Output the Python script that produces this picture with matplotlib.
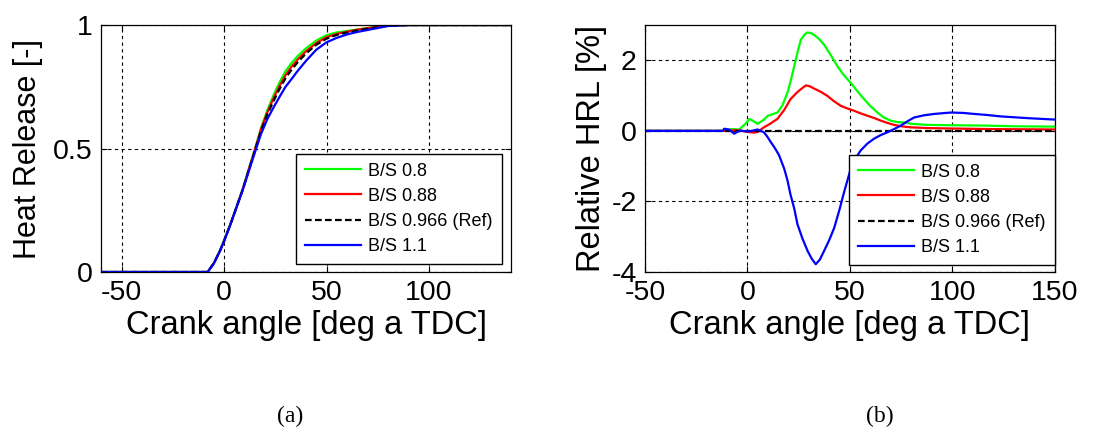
import numpy as np
import matplotlib
matplotlib.use("Agg")
import matplotlib.pyplot as plt

plt.rcParams['font.family'] = ['Liberation Sans', 'DejaVu Sans']
plt.rcParams['axes.unicode_minus'] = False

# (a) cumulative heat release
ca_a = [-60, -12, -8, -5, -2, 0, 3, 6, 9, 12, 15, 18, 21, 24, 27, 30, 33, 36, 40,
        45, 50, 55, 60, 65, 70, 75, 80, 90, 100, 140]
hr_08 = [0, 0, 0, 0.036, 0.087, 0.128, 0.192, 0.263, 0.334, 0.415, 0.496, 0.582, 0.652,
         0.713, 0.767, 0.813, 0.847, 0.875, 0.906, 0.937, 0.959, 0.97, 0.976, 0.982,
         0.988, 0.994, 0.999, 1, 1, 1]
hr_088 = [0, 0, 0, 0.035, 0.085, 0.125, 0.19, 0.26, 0.332, 0.413, 0.494, 0.577, 0.644,
          0.701, 0.752, 0.797, 0.832, 0.861, 0.894, 0.927, 0.951, 0.964, 0.973, 0.981,
          0.987, 0.993, 0.998, 1, 1, 1]
hr_ref = [0, 0, 0, 0.035, 0.085, 0.125, 0.19, 0.26, 0.33, 0.41, 0.49, 0.57, 0.635,
          0.69, 0.74, 0.785, 0.82, 0.85, 0.885, 0.92, 0.945, 0.96, 0.97, 0.978,
          0.985, 0.992, 0.997, 1, 1, 1]
hr_11 = [0, 0, 0, 0.034, 0.085, 0.125, 0.19, 0.26, 0.329, 0.406, 0.483, 0.558, 0.617,
         0.664, 0.708, 0.75, 0.782, 0.815, 0.855, 0.9, 0.93, 0.948, 0.962, 0.972,
         0.98, 0.988, 0.996, 1, 1, 1]

# (b) relative HRL [%]
ca_g = [-50, -10, -8, -4, -1, 1, 3, 5, 8, 10, 14.6, 17, 19.5, 21, 22.8, 24.5, 26, 28,
        29.3, 31, 32.5, 35, 37.4, 40.5, 43.9, 47, 50.4, 53.5, 56.9, 60, 63.4, 66.5,
        69.9, 73, 76.4, 80, 87.8, 100, 115, 130, 150]
rel_08 = [0, 0, 0.05, 0.04, 0.2, 0.34, 0.27, 0.2, 0.32, 0.43, 0.52, 0.72, 1.08, 1.4,
          1.83, 2.25, 2.58, 2.74, 2.79, 2.77, 2.72, 2.6, 2.44, 2.16, 1.83, 1.58, 1.36,
          1.13, 0.9, 0.7, 0.52, 0.38, 0.29, 0.25, 0.24, 0.2, 0.17, 0.16, 0.15, 0.13, 0.12]
ca_r = [-50, -10, -5, 0, 3, 5, 8, 11, 14.6, 18, 21, 24, 26, 28.5, 30.5, 32.5, 36, 39,
        42, 45.5, 49, 52, 55, 58.5, 62, 65, 68, 71.5, 75, 79.7, 88, 96, 120, 150]
rel_088 = [0, 0, 0.02, -0.03, -0.05, -0.03, 0.1, 0.2, 0.34, 0.6, 0.9, 1.08, 1.18, 1.29,
           1.26, 1.2, 1.1, 0.99, 0.85, 0.71, 0.63, 0.57, 0.5, 0.43, 0.36, 0.29, 0.23,
           0.17, 0.13, 0.1, 0.08, 0.07, 0.05, 0.04]
ca_ref = [-50, 150]
rel_ref = [0, 0]
ca_b = [-50, -12, -11.4, -9, -6.5, -5, -3.3, 0, 2, 4.9, 8, 9.5, 11.4, 13.5, 15.4, 17.9,
        19.5, 21, 22.8, 24.4, 26.8, 29.3, 31.3, 33.3, 35.3, 37.4, 40, 42.3, 44.8, 47.2,
        50.4, 53, 55.3, 58.5, 61.8, 65, 68.3, 71.5, 74.8, 78, 81.3, 86, 91, 99.2, 105,
        110.6, 117, 123.6, 137, 150]
rel_11 = [0, 0, 0.06, 0.04, -0.08, -0.03, 0.01, -0.02, 0.0, 0.04, -0.04, -0.15, -0.32,
          -0.5, -0.69, -1.07, -1.4, -1.81, -2.2, -2.65, -3.05, -3.4, -3.62, -3.78,
          -3.65, -3.4, -3.08, -2.75, -2.25, -1.72, -1.07, -0.75, -0.55, -0.36, -0.22,
          -0.12, -0.04, 0.05, 0.15, 0.27, 0.38, 0.44, 0.48, 0.52, 0.51, 0.48, 0.45,
          0.41, 0.36, 0.32]

labels = ['B/S 0.8', 'B/S 0.88', 'B/S 0.966 (Ref)', 'B/S 1.1']
colors = ['#00ff00', '#ff0000', 'black', '#0000ff']

fig = plt.figure(figsize=(11.02, 4.28), dpi=100)
ax1 = fig.add_axes([0.0917, 0.3645, 0.372, 0.577])
ax2 = fig.add_axes([0.5853, 0.3645, 0.372, 0.577])

lw = 1.6
ax1.plot(ca_a, hr_08, color=colors[0], lw=lw, label=labels[0])
ax1.plot(ca_a, hr_088, color=colors[1], lw=lw, label=labels[1])
ax1.plot(ca_a, hr_ref, color=colors[2], lw=lw, ls=(0, (3, 1.5)), label=labels[2])
ax1.plot(ca_a, hr_11, color=colors[3], lw=lw, label=labels[3])

ax2.plot(ca_g, rel_08, color=colors[0], lw=lw, label=labels[0])
ax2.plot(ca_r, rel_088, color=colors[1], lw=lw, label=labels[1])
ax2.plot(ca_ref, rel_ref, color=colors[2], lw=lw, ls=(0, (3, 1.5)), label=labels[2])
ax2.plot(ca_b, rel_11, color=colors[3], lw=lw, label=labels[3])

ax1.set_xlim(-60, 140)
ax1.set_ylim(0, 1)
ax1.set_xticks([-50, 0, 50, 100])
ax1.set_yticks([0, 0.5, 1])
ax1.set_yticklabels(['0', '0.5', '1'])
ax1.set_ylabel('Heat Release [-]', fontsize=22, labelpad=7)

ax2.set_xlim(-50, 150)
ax2.set_ylim(-4, 3)
ax2.set_xticks([-50, 0, 50, 100, 150])
ax2.set_yticks([-4, -2, 0, 2])
ax2.set_ylabel('Relative HRL [%]', fontsize=23.5, labelpad=3)

for ax in (ax1, ax2):
    ax.set_xlabel('Crank angle [deg a TDC]', fontsize=23.5, labelpad=3)
    ax.grid(True, color='black', ls=(0, (3, 3)), lw=0.8)
    ax.tick_params(direction='in', top=True, right=True, labelsize=20.5, length=4, pad=6)
    for s in ax.spines.values():
        s.set_linewidth(0.9)
    leg = ax.legend(loc='lower right', bbox_to_anchor=(0.978, 0.032) if ax is ax1 else (1.0, 0.028),
                    fontsize=13, fancybox=False, framealpha=1, edgecolor='black',
                    handlelength=3.1, handletextpad=0.4, labelspacing=0.45,
                    borderpad=0.5, borderaxespad=0)
    leg.get_frame().set_linewidth(1.0)

fig.text(0.263, 0.028, '(a)', fontsize=17, family='Liberation Serif', ha='center', va='center')
fig.text(0.798, 0.028, '(b)', fontsize=17, family='Liberation Serif', ha='center', va='center')

fig.savefig('out.png', dpi=100)
